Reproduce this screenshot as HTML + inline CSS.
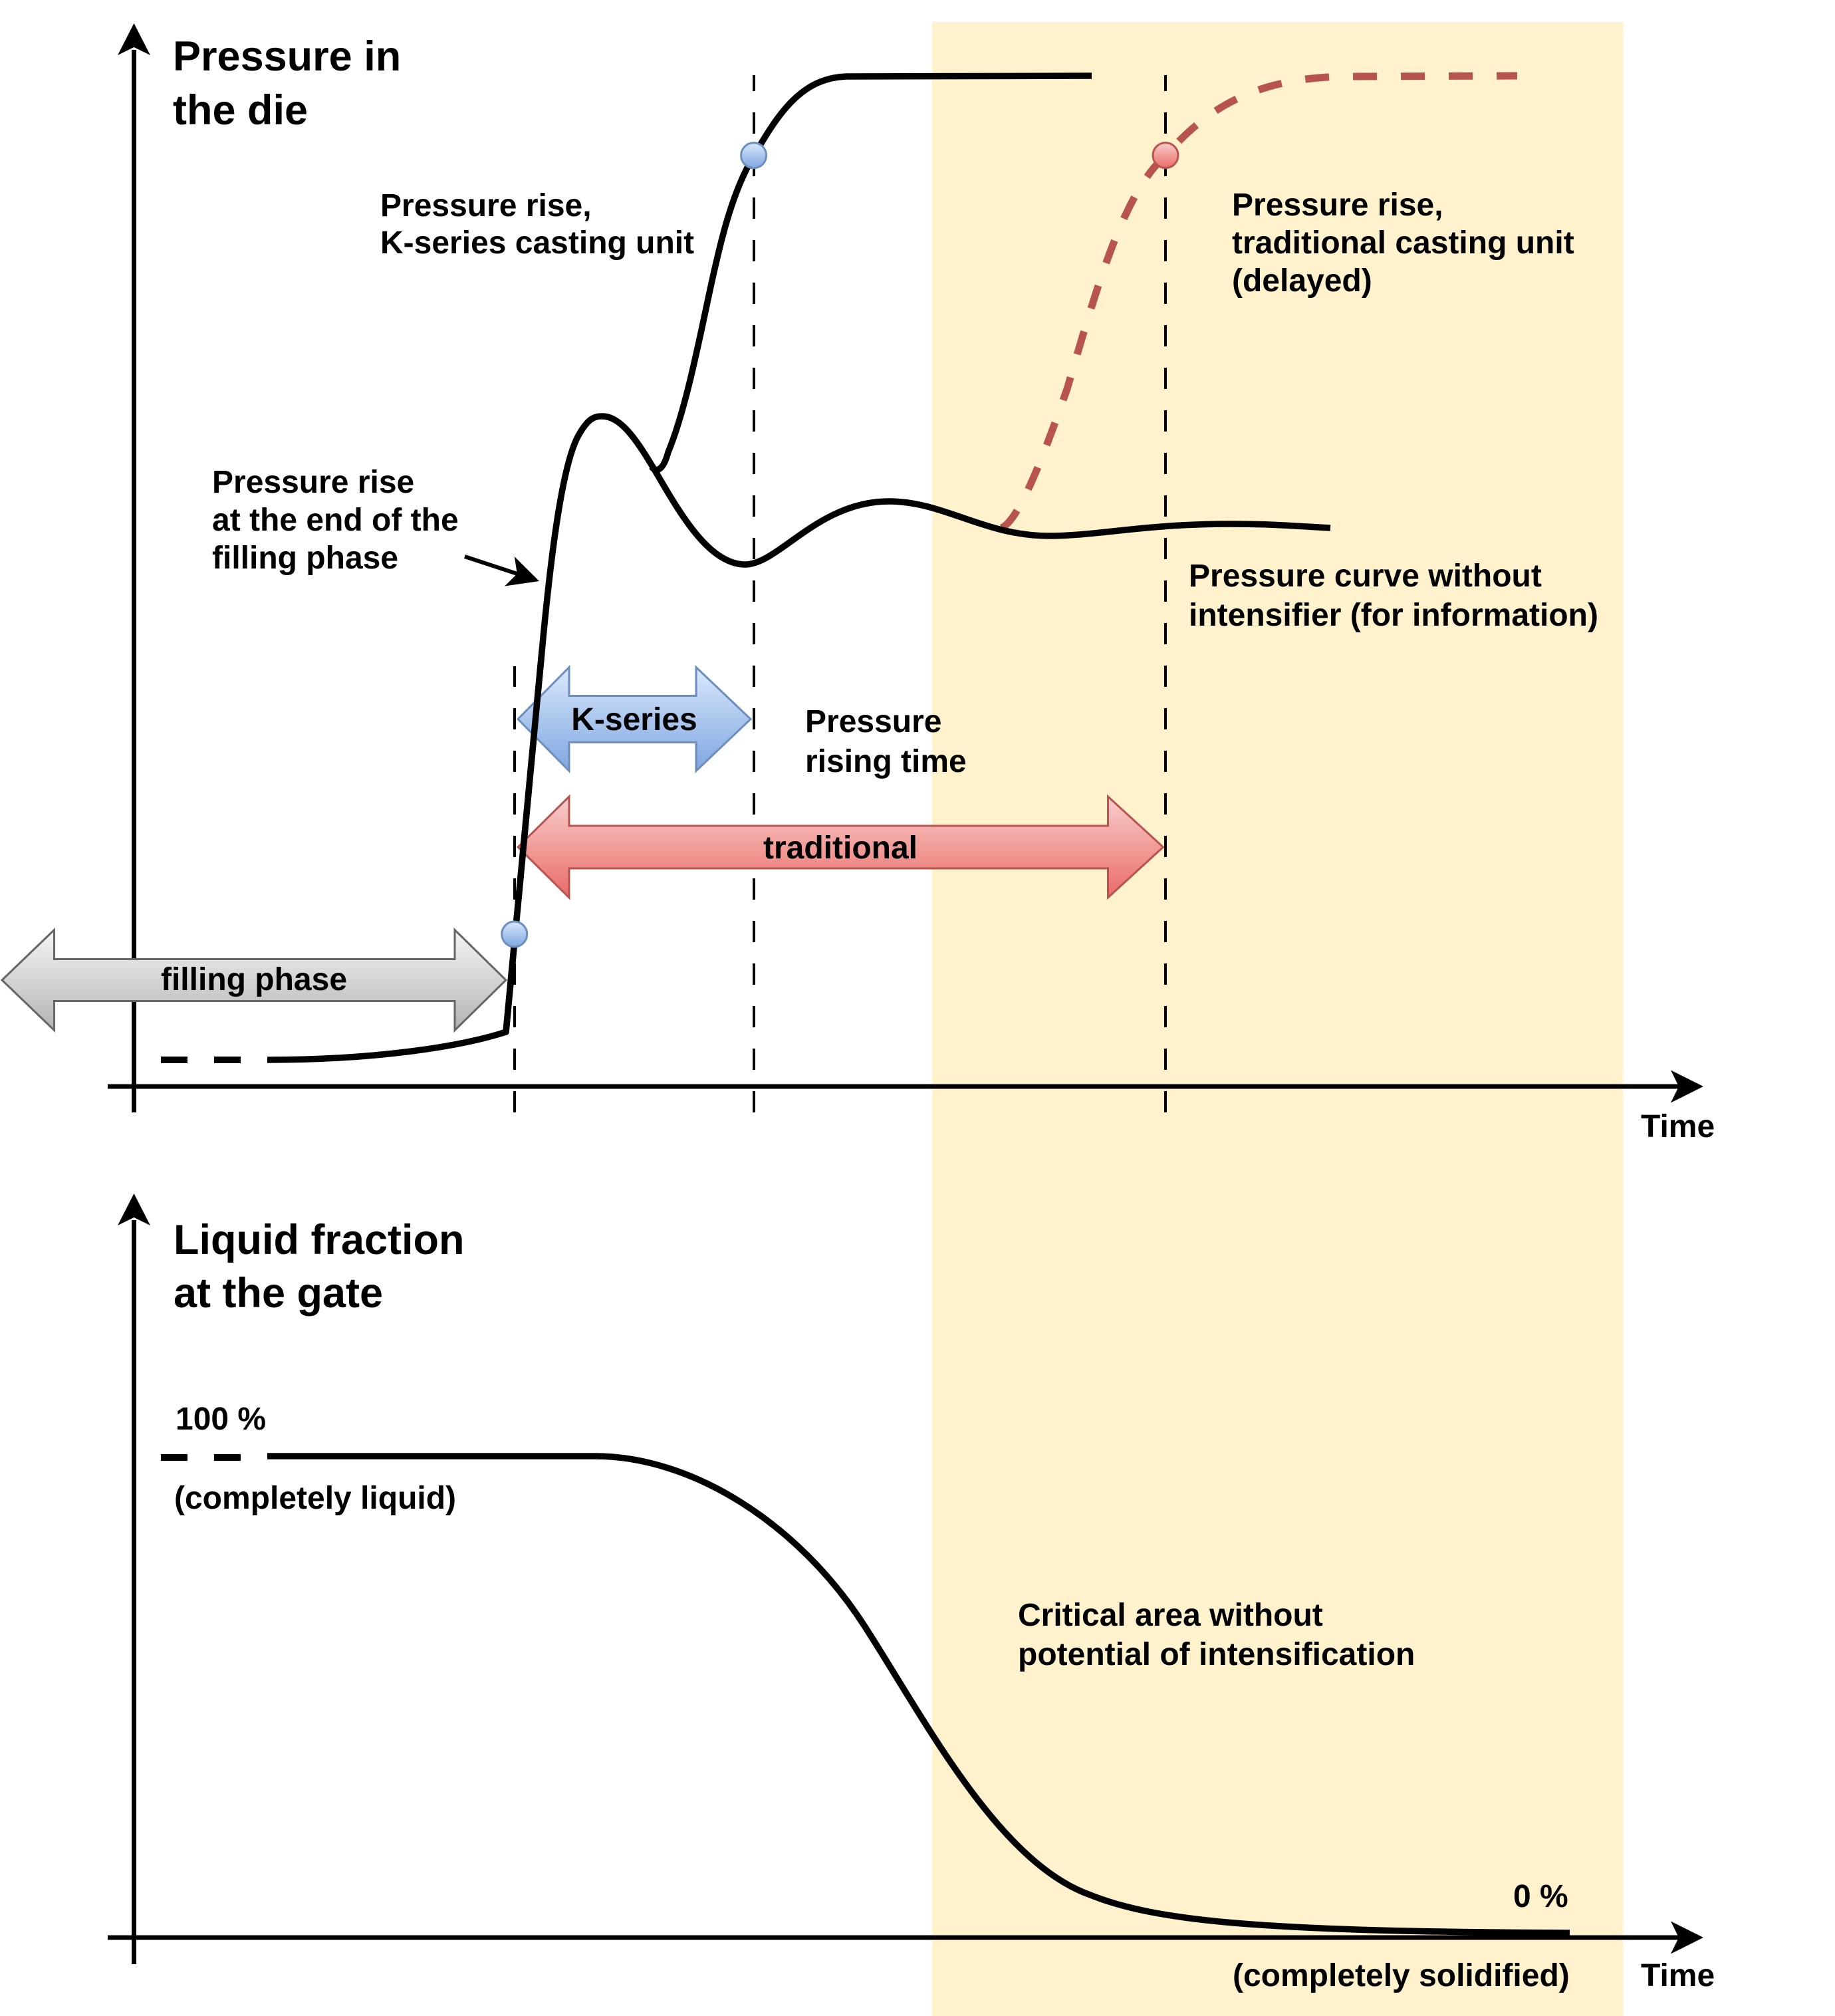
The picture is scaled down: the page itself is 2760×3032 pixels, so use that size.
<!DOCTYPE html>
<html>
<head>
<meta charset="utf-8">
<style>
  html, body { margin: 0; padding: 0; background: #ffffff; }
  body { width: 2760px; height: 3032px; overflow: hidden; }
  svg { display: block; }
  text { font-family: "Liberation Sans", Arial, Helvetica, sans-serif; font-weight: bold; fill: #000000; }
  .t48 { font-size: 48px; }
  .t63 { font-size: 63px; }
</style>
</head>
<body>
<svg width="2760" height="3032" viewBox="0 0 2760 3032" xmlns="http://www.w3.org/2000/svg">
  <defs>
    <linearGradient id="gGray" x1="0" y1="0" x2="0" y2="1">
      <stop offset="0" stop-color="#f5f5f5"/>
      <stop offset="1" stop-color="#b3b3b3"/>
    </linearGradient>
    <linearGradient id="gBlue" x1="0" y1="0" x2="0" y2="1">
      <stop offset="0" stop-color="#dae8fc"/>
      <stop offset="1" stop-color="#7ea6e0"/>
    </linearGradient>
    <linearGradient id="gRed" x1="0" y1="0" x2="0" y2="1">
      <stop offset="0" stop-color="#f8cecc"/>
      <stop offset="1" stop-color="#ea6b66"/>
    </linearGradient>
  </defs>

  <!-- critical area highlight -->
  <rect x="1402" y="33" width="1039" height="2999" fill="#fff2cc"/>

  <!-- vertical dashed lines -->
  <g stroke="#000" stroke-width="4" stroke-dasharray="32 32" fill="none">
    <path d="M774 1673 L774 1002"/>
    <path d="M1134 1673 L1134 113"/>
    <path d="M1753 1673 L1753 113"/>
  </g>

  <!-- axes -->
  <g stroke="#000" stroke-width="7" fill="none">
    <path d="M201.5 1673 L201.5 75"/>
    <path d="M162 1634 L2528 1634"/>
    <path d="M201.5 2954 L201.5 1835"/>
    <path d="M162 2914 L2528 2914"/>
  </g>
  <g fill="#000">
    <polygon points="201.5,35 226,83 201.5,71 177,83"/>
    <polygon points="2562,1634 2513,1658.5 2525,1634 2513,1609.5"/>
    <polygon points="201.5,1795 226,1843 201.5,1831 177,1843"/>
    <polygon points="2562,2914 2513,2938.5 2525,2914 2513,2889.5"/>
  </g>

  <!-- red dashed traditional curve -->
  <path d="M1506 794 C1530 785, 1565 700, 1605 585 C1650 430, 1690 290, 1753 234 C1810 170, 1880 115, 2030 115 L2282 114"
        fill="none" stroke="#b85450" stroke-width="11" stroke-dasharray="36 36"/>

  <!-- filling dashes -->
  <g stroke="#000" stroke-width="10" fill="none">
    <path d="M242 1594 L282 1594"/>
    <path d="M322 1594 L362 1594"/>
    <path d="M242 2192 L282 2192"/>
    <path d="M322 2192 L362 2192"/>
  </g>

  <!-- main pressure curve (filling + without intensifier) -->
  <path d="M402 1594 C560 1594, 690 1575, 761 1552 L815 980 C828 840, 845 700, 870 655 C885 628, 895 626, 906 626 C935 626, 960 665, 990 716 C1030 785, 1070 848, 1120 849 C1170 850, 1230 754, 1337 754 C1420 754, 1480 806, 1578 806 C1650 806, 1720 788, 1850 788 C1920 788, 1960 792, 2001 794"
        fill="none" stroke="#000" stroke-width="9.5" stroke-linejoin="round"/>

  <!-- K-series branch -->
  <path d="M980 702 C988 712, 998 706, 1005 680 C1030 620, 1050 520, 1066 445 C1082 370, 1100 290, 1134 234 C1170 172, 1205 117, 1273 115 L1642 114"
        fill="none" stroke="#000" stroke-width="9.5" stroke-linejoin="round"/>

  <!-- liquid fraction curve -->
  <path d="M402 2190 L895 2190 C1040 2190, 1200 2290, 1300 2445 C1390 2584, 1500 2800, 1640 2850 C1740 2890, 1900 2905, 2361 2907"
        fill="none" stroke="#000" stroke-width="9.5"/>

  <!-- pointer arrow -->
  <path d="M699 837 L778 863" stroke="#000" stroke-width="6" fill="none"/>
  <polygon points="811,874 759,881.6 777.8,863 773.8,837" fill="#000"/>

  <!-- double arrows -->
  <polygon points="3,1474 81.5,1398.5 81.5,1442.5 684,1442.5 684,1398.5 761,1474 684,1549.5 684,1505.5 81.5,1505.5 81.5,1549.5"
           fill="url(#gGray)" stroke="#666666" stroke-width="3"/>
  <polygon points="779,1081.5 856,1003.5 856,1046.5 1047,1046.5 1047,1003.5 1129,1081.5 1047,1159.5 1047,1116.5 856,1116.5 856,1159.5"
           fill="url(#gBlue)" stroke="#6c8ebf" stroke-width="3"/>
  <polygon points="779,1274 856,1198 856,1242 1666.5,1242 1666.5,1198 1749.5,1274 1666.5,1350 1666.5,1306 856,1306 856,1350"
           fill="url(#gRed)" stroke="#b85450" stroke-width="3"/>

  <!-- K line over arrows -->
  <path d="M761 1552 L815 980" fill="none" stroke="#000" stroke-width="9.5"/>

  <!-- circles -->
  <circle cx="1133.6" cy="233.7" r="19" fill="url(#gBlue)" stroke="#6c8ebf" stroke-width="3"/>
  <circle cx="773.7" cy="1405" r="19" fill="url(#gBlue)" stroke="#6c8ebf" stroke-width="3"/>
  <circle cx="1753" cy="233.6" r="19" fill="url(#gRed)" stroke="#b85450" stroke-width="3"/>

  <!-- titles -->
  <text class="t63" x="260" y="106">Pressure in</text>
  <text class="t63" x="260" y="187">the die</text>
  <text class="t63" x="261" y="1886">Liquid fraction</text>
  <text class="t63" x="261" y="1966">at the gate</text>

  <!-- labels -->
  <text class="t48" x="572" y="325">Pressure rise,</text>
  <text class="t48" x="572" y="381">K-series casting unit</text>

  <text class="t48" x="319" y="741">Pressure rise</text>
  <text class="t48" x="319" y="798">at the end of the</text>
  <text class="t48" x="319" y="855">filling phase</text>

  <text class="t48" x="1853" y="324">Pressure rise,</text>
  <text class="t48" x="1853" y="381">traditional casting unit</text>
  <text class="t48" x="1853" y="438">(delayed)</text>

  <text class="t48" x="1788" y="882">Pressure curve without</text>
  <text class="t48" x="1788" y="941">intensifier (for information)</text>

  <text class="t48" x="1211" y="1101">Pressure</text>
  <text class="t48" x="1211" y="1161">rising time</text>

  <text class="t48" x="954" y="1098" text-anchor="middle">K-series</text>
  <text class="t48" x="1264" y="1291" text-anchor="middle">traditional</text>
  <text class="t48" x="382" y="1489" text-anchor="middle">filling phase</text>

  <text class="t48" x="2468" y="1710">Time</text>

  <text class="t48" x="264" y="2150">100 %</text>
  <text class="t48" x="262" y="2269">(completely liquid)</text>

  <text class="t48" x="1531" y="2445">Critical area without</text>
  <text class="t48" x="1531" y="2504">potential of intensification</text>

  <text class="t48" x="2276" y="2868">0 %</text>
  <text class="t48" x="1854" y="2987">(completely solidified)</text>
  <text class="t48" x="2468" y="2987">Time</text>
</svg>
</body>
</html>
